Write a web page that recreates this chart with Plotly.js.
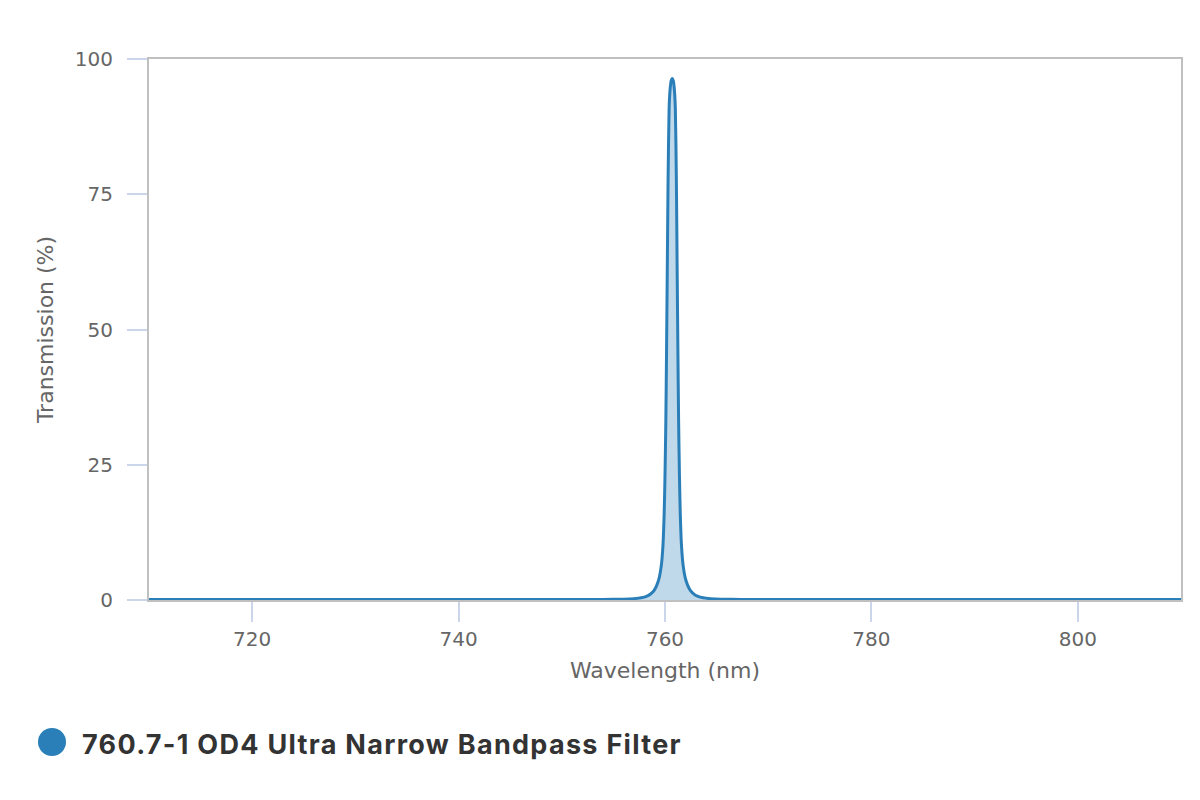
<!DOCTYPE html>
<html>
<head>
<meta charset="utf-8">
<script src="https://cdn.plot.ly/plotly-3.0.1.min.js"></script>
<style>
  html, body { margin: 0; padding: 0; background: #ffffff; }
  #chart { width: 1200px; height: 800px; }
  #chart .annotation-text { letter-spacing: 1.3px; }
</style>
</head>
<body>
<div id="chart"></div>
<script>
// Wavelength (nm)
const wavelength = [710, 720, 730, 740, 750, 754, 756, 757, 757.7, 758.2, 758.6, 758.95, 759.2, 759.45, 759.65, 759.8, 759.92, 760.0, 760.08, 760.15, 760.23, 760.3, 760.4, 760.5, 760.6, 760.7, 760.8, 760.9, 761.0, 761.1, 761.17, 761.25, 761.32, 761.4, 761.48, 761.6, 761.75, 761.95, 762.2, 762.45, 762.8, 763.2, 763.7, 764.4, 765.4, 767.4, 770, 780, 790, 800, 810];
// Transmission (%)
const transmission = [0.08, 0.08, 0.08, 0.08, 0.09, 0.1, 0.15, 0.25, 0.4, 0.65, 1.1, 1.8, 2.7, 4.2, 6.5, 10, 16, 23, 33, 46, 63, 78, 91, 94.5, 96.0, 96.4, 96.0, 94.5, 91, 78, 63, 46, 33, 23, 16, 10, 6.5, 4.2, 2.7, 1.8, 1.1, 0.65, 0.4, 0.25, 0.15, 0.1, 0.09, 0.08, 0.08, 0.08, 0.08];
const seriesName = "760.7-1 OD4 Ultra Narrow Bandpass Filter";
const xTitle = "Wavelength (nm)";
const yTitle = "Transmission (%)";
const yTicks = [0, 25, 50, 75, 100];
const xTicks = [720, 740, 760, 780, 800];

const W = 1200, H = 800;
const mL = 149, mR = 19, mT = 59, mB = 200;
const pw = W - mL - mR, ph = H - mT - mB;
const px = v => (v - mL) / pw;
const py = v => (H - mB - v) / ph;

const trace = {
  x: wavelength,
  y: transmission,
  type: 'scatter',
  mode: 'lines',
  name: seriesName,
  line: { color: '#2b7fb8', width: 3, shape: 'spline', smoothing: 0.6 },
  fill: 'tozeroy',
  fillcolor: 'rgba(43,127,184,0.3)',
  showlegend: false,
  hoverinfo: 'skip'
};

const fontFam = '"DejaVu Sans", Verdana, sans-serif';

const layout = {
  width: W, height: H,
  margin: { l: mL, r: mR, t: mT, b: mB },
  paper_bgcolor: '#ffffff',
  plot_bgcolor: '#ffffff',
  font: { family: fontFam, color: '#666666' },
  showlegend: false,
  xaxis: {
    range: [710, 810],
    tickvals: xTicks,
    ticktext: xTicks.map(String),
    ticks: 'outside', ticklen: 20, tickwidth: 2, tickcolor: '#ccd6eb',
    showline: true, linecolor: '#c0c0c0', linewidth: 2, mirror: true,
    showgrid: false, zeroline: false,
    tickfont: { family: fontFam, size: 20, color: '#666666' },
    ticklabelstandoff: 0,
    title: { text: xTitle, font: { family: fontFam, size: 22, color: '#666666' }, standoff: 13 },
    automargin: false,
    fixedrange: true
  },
  yaxis: {
    range: [0, 100],
    tickvals: yTicks,
    ticktext: yTicks.map(String),
    ticks: 'outside', ticklen: 20, tickwidth: 2, tickcolor: '#ccd6eb',
    showline: true, linecolor: '#c0c0c0', linewidth: 2, mirror: true,
    showgrid: false, zeroline: false,
    tickfont: { family: fontFam, size: 20, color: '#666666' },
    ticklabelstandoff: 10,
    title: { text: yTitle, font: { family: fontFam, size: 22, color: '#666666' }, standoff: 15 },
    automargin: false,
    fixedrange: true
  },
  shapes: [
    {
      type: 'circle', xref: 'paper', yref: 'paper',
      x0: px(38), x1: px(66), y0: py(756), y1: py(728),
      fillcolor: '#2b7fb8', line: { width: 0 }
    }
  ],
  annotations: [
    {
      xref: 'paper', yref: 'paper',
      x: px(106), y: py(744),
      xanchor: 'left', yanchor: 'middle',
      text: '<b>' + seriesName + '</b>',
      showarrow: false,
      font: { family: 'Inter, "Open Sans", sans-serif', size: 27, color: '#333333' }
    }
  ],
  hovermode: false
};

Plotly.newPlot('chart', [trace], layout, { displayModeBar: false, staticPlot: true });
</script>
</body>
</html>
